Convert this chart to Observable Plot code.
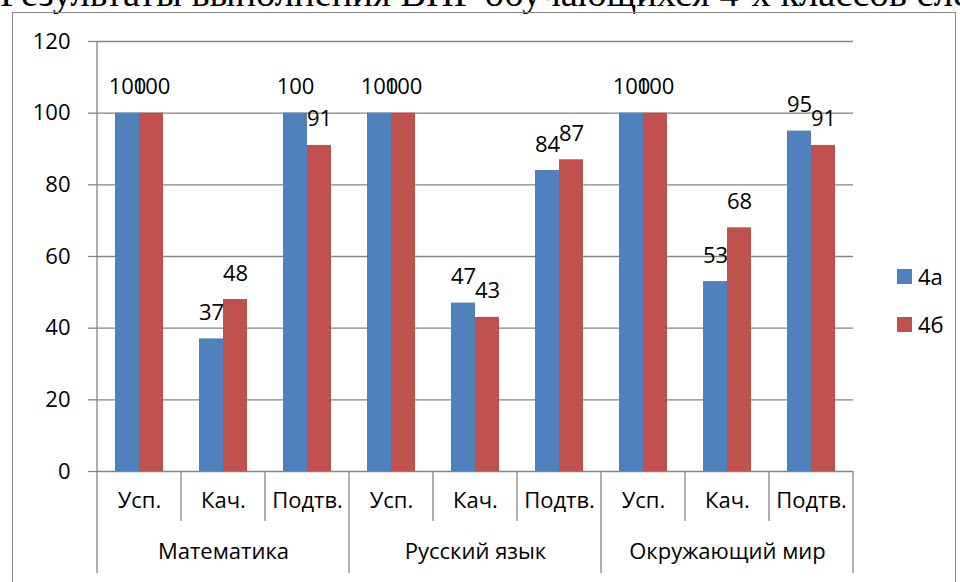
<!DOCTYPE html>
<html>
<head>
<meta charset="utf-8">
<script src="https://cdn.jsdelivr.net/npm/d3@7"></script>
<script src="https://cdn.jsdelivr.net/npm/@observablehq/plot@0.6"></script>
<style>
  body { margin: 0; width: 960px; height: 582px; overflow: hidden; position: relative; background: #fff; font-family: "Open Sans", sans-serif; }
  #title { position: absolute; left: 0; top: -29px; font-family: "Liberation Serif", serif; font-size: 38.5px; white-space: nowrap; color: #000; }
  #box { position: absolute; left: 12px; top: 12px; width: 944px; height: 640px; border: 1.5px solid #868686; box-sizing: border-box; }
  #chart { position: absolute; left: 0; top: 0; }
  .lg { position: absolute; left: 897px; font-size: 22px; line-height: 22px; display: flex; align-items: center; }
  .sw { width: 15px; height: 15px; margin-right: 6px; }
</style>
</head>
<body>
<div id="title">Результаты выполнения ВПР обучающихся 4-х классов следующие</div>
<div id="box"></div>
<div id="chart"></div>
<script>
const subjects = ["Математика", "Русский язык", "Окружающий мир"];
const measures = ["Усп.", "Кач.", "Подтв."];
const series = ["4а", "4б"];
const colors = ["#4F81BD", "#C0504D"];
const values4a = [100, 37, 100, 100, 47, 84, 100, 53, 95];
const values4b = [100, 48, 91, 100, 43, 87, 100, 68, 91];
const yTicks = [0, 20, 40, 60, 80, 100, 120];

const keys = subjects.flatMap(s => measures.map(m => s + "|" + m));
const rows = keys.flatMap((k, i) => [
  {key: k, series: series[0], value: values4a[i]},
  {key: k, series: series[1], value: values4b[i]}
]);
const catRows = keys.map(k => ({key: k, measure: k.split("|")[1]}));
const subjRows = subjects.map(s => ({key: s + "|" + measures[1], subject: s}));

const gray = "#868686";
const plot = Plot.plot({
  width: 960,
  height: 582,
  marginLeft: 95,
  marginRight: 106,
  marginTop: 41,
  marginBottom: 111,
  style: {fontFamily: "'Open Sans', sans-serif", fontSize: "22px", color: "#000", background: "transparent", overflow: "visible"},
  fx: {domain: keys, padding: 0, axis: null},
  x: {domain: series, paddingInner: 0, paddingOuter: 0.75, axis: null},
  y: {domain: [0, 120], axis: null},
  color: {domain: series, range: colors},
  marks: [
    Plot.gridY(yTicks, {stroke: gray, strokeOpacity: 1, strokeWidth: 1.3}),
    Plot.axisY(yTicks, {label: null, tickSize: 9, tickPadding: 18, stroke: gray, strokeWidth: 1.3, fill: "#000", fontSize: 22}),
    Plot.barY(rows, {fx: "key", x: "series", y: "value", fill: "series"}),
    Plot.text(rows, {fx: "key", x: "series", y: "value", text: d => String(d.value), dy: -26, fontSize: 22, fill: "#000"}),
    Plot.text(catRows, {fx: "key", text: "measure", frameAnchor: "bottom", dy: 36, fontSize: 22, fill: "#000"}),
    Plot.text(subjRows, {fx: "key", text: "subject", frameAnchor: "bottom", dy: 87, fontSize: 22, fill: "#000"})
  ]
});
document.getElementById("chart").appendChild(plot);

// hierarchical axis dividers, positioned through Plot's scales
const fx = plot.scale("fx");
const y = plot.scale("y");
const y0 = y.apply(0);
const yTop = y.apply(120);
const svg = d3.select(plot);
const g = svg.append("g").attr("stroke", gray).attr("stroke-width", 1.3);
keys.forEach((k, i) => {
  const x = fx.apply(k);
  const top = i === 0 ? yTop : y0;
  const bottom = i % 3 === 0 ? y0 + 102 : y0 + 50;
  g.append("line").attr("x1", x).attr("x2", x).attr("y1", top).attr("y2", bottom);
});
const xEnd = fx.apply(keys[keys.length - 1]) + fx.bandwidth;
g.append("line").attr("x1", xEnd).attr("x2", xEnd).attr("y1", y0).attr("y2", y0 + 102);

// legend
series.forEach((s, i) => {
  const d = document.createElement("div");
  d.className = "lg";
  d.style.top = (265 + i * 48) + "px";
  d.innerHTML = `<div class="sw" style="background:${colors[i]}"></div><span>${s}</span>`;
  document.body.appendChild(d);
});
</script>
</body>
</html>
